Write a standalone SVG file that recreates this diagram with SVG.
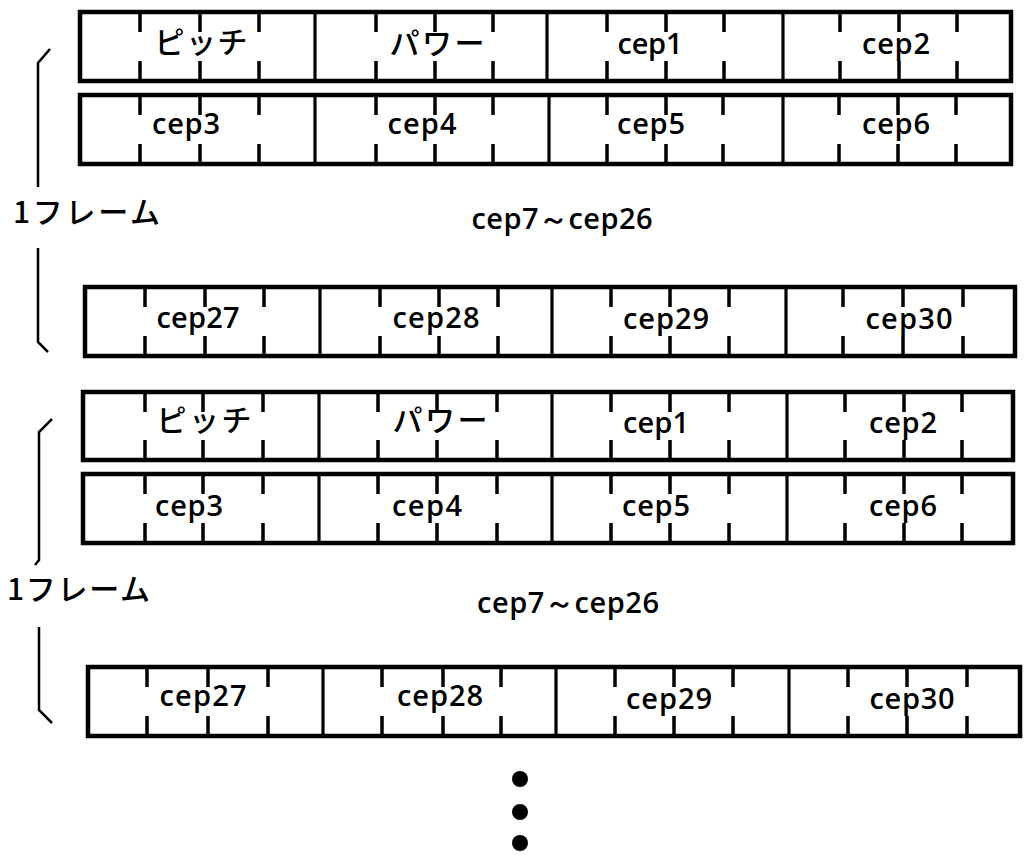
<svg xmlns="http://www.w3.org/2000/svg" width="1028" height="855" viewBox="0 0 1028 855">
<style>
.frame{fill:none;stroke:#000;stroke-width:4.5}
.div{fill:none;stroke:#000;stroke-width:3.2}
.tick{fill:none;stroke:#000;stroke-width:3.5}
.br{fill:none;stroke:#000;stroke-width:2.5}
.t{font-family:"Open Sans","Noto Sans",sans-serif;font-weight:600;font-size:29px;fill:#000;text-anchor:middle}
.j{font-family:"Noto Sans CJK JP",sans-serif;font-weight:500;font-size:30px;fill:#000;text-anchor:middle}
.f{font-family:"Noto Sans CJK JP",sans-serif;font-weight:500;font-size:30px;fill:#000}
</style>
<rect width="1028" height="855" fill="#fff"/>

<g id="row1">
<rect class="frame" x="80" y="12" width="931" height="69"/>
<path class="div" d="M315,12V81M547,12V81M783,12V81"/>
<path class="tick" d="M140,12V32M200,12V32M259,12V32M376,12V32M435,12V32M493,12V32M607,12V32M666,12V32M724,12V32M840,12V32M899,12V32M957,12V32M140,61V81M200,61V81M259,61V81M376,61V81M435,61V81M493,61V81M607,61V81M666,61V81M724,61V81M840,61V81M899,61V81M957,61V81"/>
<text class="j" x="201" y="53" textLength="93" lengthAdjust="spacing">ピッチ</text>
<text class="j" x="437" y="54" textLength="95" lengthAdjust="spacing">パワー</text>
<text class="t" x="650" y="54" textLength="65" lengthAdjust="spacing">cep1</text>
<text class="t" x="896" y="54" textLength="68" lengthAdjust="spacing">cep2</text>
</g>

<g id="row2">
<rect class="frame" x="80" y="95" width="931" height="69"/>
<path class="div" d="M315,95V164M549,95V164M783,95V164"/>
<path class="tick" d="M140,95V115M200,95V115M259,95V115M376,95V115M435,95V115M493,95V115M607,95V115M666,95V115M723,95V115M839,95V115M898,95V115M956,95V115M140,144V164M200,144V164M259,144V164M376,144V164M435,144V164M493,144V164M607,144V164M666,144V164M723,144V164M839,144V164M898,144V164M956,144V164"/>
<text class="t" x="186" y="134" textLength="68" lengthAdjust="spacing">cep3</text>
<text class="t" x="422" y="134" textLength="69" lengthAdjust="spacing">cep4</text>
<text class="t" x="651" y="134" textLength="68" lengthAdjust="spacing">cep5</text>
<text class="t" x="896" y="134" textLength="68" lengthAdjust="spacing">cep6</text>
</g>

<g id="mid1">
<text class="t" x="562" y="229" textLength="181" lengthAdjust="spacing">cep7～cep26</text>
</g>

<g id="row3">
<rect class="frame" x="85" y="287" width="930" height="69"/>
<path class="div" d="M320,287V356M552,287V356M786,287V356"/>
<path class="tick" d="M145,287V307M205,287V307M264,287V307M380,287V307M439,287V307M498,287V307M611,287V307M670,287V307M729,287V307M843,287V307M903,287V307M963,287V307M145,336V356M205,336V356M264,336V356M380,336V356M439,336V356M498,336V356M611,336V356M670,336V356M729,336V356M843,336V356M903,336V356M963,336V356"/>
<text class="t" x="198" y="328" textLength="83" lengthAdjust="spacing">cep27</text>
<text class="t" x="436" y="328" textLength="87" lengthAdjust="spacing">cep28</text>
<text class="t" x="666" y="329" textLength="86" lengthAdjust="spacing">cep29</text>
<text class="t" x="909" y="329" textLength="87" lengthAdjust="spacing">cep30</text>
</g>

<g id="frame1-label">
<path class="br" d="M50,49L38,63V187M38,248V342L48,352"/>
<text class="f" x="13" y="223" textLength="147" lengthAdjust="spacing">1フレーム</text>
</g>

<g id="row4">
<rect class="frame" x="83" y="392" width="930" height="68"/>
<path class="div" d="M319,392V460M552,392V460M787,392V460"/>
<path class="tick" d="M145,392V412M203,392V412M263,392V412M378,392V412M437,392V412M497,392V412M611,392V412M670,392V412M729,392V412M845,392V412M904,392V412M962,392V412M145,440V460M203,440V460M263,440V460M378,440V460M437,440V460M497,440V460M611,440V460M670,440V460M729,440V460M845,440V460M904,440V460M962,440V460"/>
<text class="j" x="204" y="431" textLength="95" lengthAdjust="spacing">ピッチ</text>
<text class="j" x="440" y="431" textLength="95" lengthAdjust="spacing">パワー</text>
<text class="t" x="656" y="433" textLength="66" lengthAdjust="spacing">cep1</text>
<text class="t" x="903" y="433" textLength="68" lengthAdjust="spacing">cep2</text>
</g>

<g id="row5">
<rect class="frame" x="83" y="474" width="930" height="69"/>
<path class="div" d="M319,474V543M552,474V543M787,474V543"/>
<path class="tick" d="M145,474V494M203,474V494M263,474V494M378,474V494M437,474V494M497,474V494M611,474V494M670,474V494M729,474V494M845,474V494M904,474V494M962,474V494M145,523V543M203,523V543M263,523V543M378,523V543M437,523V543M497,523V543M611,523V543M670,523V543M729,523V543M845,523V543M904,523V543M962,523V543"/>
<text class="t" x="189" y="516" textLength="68" lengthAdjust="spacing">cep3</text>
<text class="t" x="427" y="516" textLength="70" lengthAdjust="spacing">cep4</text>
<text class="t" x="656" y="516" textLength="68" lengthAdjust="spacing">cep5</text>
<text class="t" x="903" y="516" textLength="68" lengthAdjust="spacing">cep6</text>
</g>

<g id="mid2">
<text class="t" x="568" y="613" textLength="182" lengthAdjust="spacing">cep7～cep26</text>
</g>

<g id="row6">
<rect class="frame" x="88" y="667" width="932" height="69"/>
<path class="div" d="M323,667V736M556,667V736M789,667V736"/>
<path class="tick" d="M147,667V687M208,667V687M268,667V687M382,667V687M443,667V687M501,667V687M615,667V687M674,667V687M733,667V687M848,667V687M907,667V687M967,667V687M147,716V736M208,716V736M268,716V736M382,716V736M443,716V736M501,716V736M615,716V736M674,716V736M733,716V736M848,716V736M907,716V736M967,716V736"/>
<text class="t" x="203" y="706" textLength="87" lengthAdjust="spacing">cep27</text>
<text class="t" x="440" y="706" textLength="86" lengthAdjust="spacing">cep28</text>
<text class="t" x="669" y="709" textLength="86" lengthAdjust="spacing">cep29</text>
<text class="t" x="912" y="709" textLength="85" lengthAdjust="spacing">cep30</text>
</g>

<g id="frame2-label">
<path class="br" d="M52,419L39,432V560L35,565M39,627V710L52,723"/>
<text class="f" x="7" y="600" textLength="143" lengthAdjust="spacing">1フレーム</text>
</g>

<g id="ellipsis" fill="#000">
<circle cx="520" cy="779" r="8"/>
<circle cx="520" cy="812" r="8"/>
<circle cx="520" cy="843" r="8"/>
</g>
</svg>
